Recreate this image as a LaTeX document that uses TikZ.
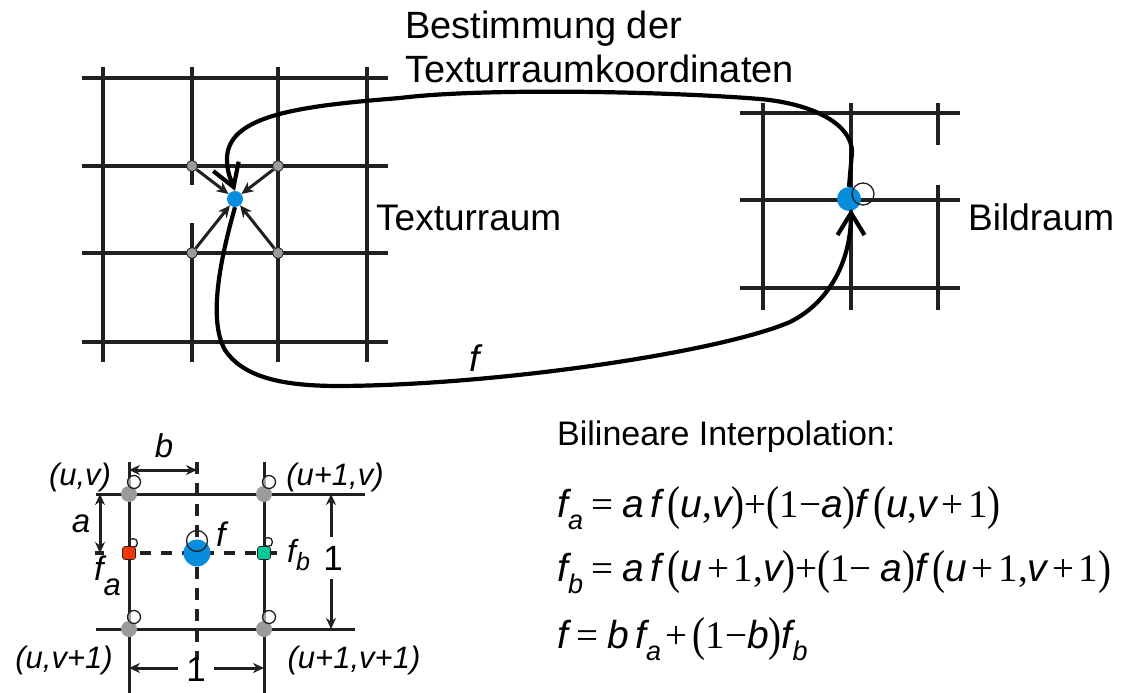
\documentclass[tikz,border=0pt]{standalone}
\usepackage{fontspec}
\usepackage{graphicx}
\setmainfont{Liberation Sans}
\newfontfamily\fser{Liberation Serif}
\usetikzlibrary{arrows.meta}
\definecolor{ink}{RGB}{35,31,32}
\definecolor{bluedot}{RGB}{8,140,220}
\definecolor{reddot}{RGB}{240,55,10}
\definecolor{greendot}{RGB}{0,200,150}
\definecolor{greydot}{RGB}{155,155,155}
\newcommand\fv[1]{{\itshape #1}}
\newcommand\fn[1]{{\fser #1}}
\newcommand\fp[1]{\raisebox{-0.06em}{\scalebox{1}[1.22]{\fser #1}}}
\newcommand\fsb[1]{\raisebox{-0.32em}{\fontsize{27}{27}\selectfont\itshape #1}}
\newcommand\fgap{\hspace{0.22em}}
\newcommand\fpl{\hspace{0.12em}\fn{+}\hspace{0.12em}}
\begin{document}
\begin{tikzpicture}[x=1pt,y=-1pt,
  gl/.style={draw=ink,line width=4pt},
  bl/.style={draw=ink,line width=3pt},
  dsh/.style={draw=ink,line width=3.2pt},
  dot/.style={circle,inner sep=0pt,minimum size=#1},
  ring/.style={circle,inner sep=0pt,minimum size=#1,draw=ink,line width=1.3pt},
  bigline/.style={draw=black,line width=4.2pt},
  barb/.style={-{Straight Barb[length=22pt,width=27pt]}},
  smallarrow/.style={draw=ink,line width=3pt,-{Stealth[length=12pt,width=11pt]}},
  dimarrow/.style={draw=ink,line width=3pt,-{Stealth[length=11pt,width=10pt]}},
  dimboth/.style={draw=ink,line width=3pt,{Stealth[length=11pt,width=10pt]}-{Stealth[length=11pt,width=10pt]}},
  txt/.style={inner sep=0pt,text=black},
]
\useasboundingbox (0,0) rectangle (1125,693);
\fill[white] (0,0) rectangle (1125,693);

% ---------- Texturraum grid ----------
\foreach \y in {78,166,253,342} \draw[gl] (82,\y) -- (388,\y);
\foreach \x in {103,278,367} \draw[gl] (\x,67) -- (\x,362);
\draw[gl] (192,67) -- (192,185);
\draw[gl] (192,223) -- (192,362);

% ---------- Bildraum grid ----------
\foreach \y in {113,200,288} \draw[gl] (740,\y) -- (960,\y);
\foreach \x in {763,851} \draw[gl] (\x,103) -- (\x,310);
\draw[gl] (938,103) -- (938,145);
\draw[gl] (938,185) -- (938,310);

% ---------- points ----------
\node[dot=16, fill=bluedot] (tex) at (235,199) {};
\node[dot=11, fill=greydot, draw=ink, line width=0.8pt] (g1) at (192,166) {};
\node[dot=11, fill=greydot, draw=ink, line width=0.8pt] (g2) at (278,166) {};
\node[dot=11, fill=greydot, draw=ink, line width=0.8pt] (g3) at (192,253) {};
\node[dot=11, fill=greydot, draw=ink, line width=0.8pt] (g4) at (278,253) {};
\draw[smallarrow] (g1) -- (tex);
\draw[smallarrow] (g2) -- (tex);
\draw[smallarrow] (g3) -- (tex);
\draw[smallarrow] (g4) -- (tex);

\node[dot=24, fill=bluedot] (bild) at (849,199) {};
\node[ring=22] (bildring) at (863,194) {};

% ---------- mapping curves ----------
\draw[bigline,barb] (bild.north) -- (852,152)
  .. controls (852,125) and (815,104) .. (760,99)
  .. controls (660,91) and (480,88) .. (400,98)
  .. controls (300,106) and (226,115) .. (227,160)
  .. controls (227,172) and (231,180) .. (tex.north);
\draw[bigline,barb] (tex.south)
  .. controls (220,260) and (208,320) .. (225,350)
  .. controls (245,380) and (290,386) .. (340,386)
  .. controls (500,385) and (720,352) .. (790,322)
  .. controls (830,302) and (851,260) .. (851,209);

% ---------- labels top ----------
\node[txt, anchor=base west, font=\fontsize{38}{38}\selectfont] (title1) at (405,39) {Bestimmung der};
\node[txt, anchor=base west, font=\fontsize{38}{38}\selectfont] (title2) at (405,82) {Texturraumkoordinaten};
\node[txt, anchor=base west, font=\fontsize{37}{37}\selectfont] (texlbl) at (376,230) {Texturraum};
\node[txt, anchor=base west, font=\fontsize{37}{37}\selectfont] (bildlbl) at (968,230) {Bildraum};
\node[txt, anchor=base west, font=\fontsize{37}{37}\selectfont\itshape] (flbl) at (469,371) {f};

% ---------- bilinear cell ----------
\draw[bl] (96,494) -- (365,494);
\draw[bl] (96,629) -- (355,629);
\draw[bl] (129,462) -- (129,693);
\draw[bl] (264,462) -- (264,693);
\draw[dsh, dash pattern=on 12pt off 9pt] (197,462) -- (197,660);
\draw[dsh, dash pattern=on 11pt off 10pt, dash phase=10pt] (129,553) -- (287,553);
\draw[dsh] (95,553) -- (104,553);

% dimension b
\coordinate (bL) at (129,470);
\coordinate (bR) at (197,470);
\draw[dimboth] (bL) -- (bR);
% dimension a
\coordinate (aT) at (100,494);
\coordinate (aB) at (100,553);
\draw[dimboth] (aT) -- (aB);
% dimension 1 (right)
\node[txt, font=\fontsize{35}{35}\selectfont, inner ysep=9pt, inner xsep=0pt] (oneR) at (333,558) {1};
\coordinate (oneRT) at (331,494);
\coordinate (oneRB) at (331,629);
\draw[dimarrow] (oneR.north -| oneRT) -- (oneRT);
\draw[dimarrow] (oneR.south -| oneRB) -- (oneRB);
% dimension 1 (bottom)
\node[txt, font=\fontsize{35}{35}\selectfont, inner xsep=8pt] (oneB) at (196,669) {1};
\coordinate (oneBL) at (129,668);
\coordinate (oneBR) at (264,668);
\draw[dimarrow] (oneB.west |- oneBL) -- (oneBL);
\draw[dimarrow] (oneB.east |- oneBR) -- (oneBR);

% corner samples
\node[dot=16, fill=greydot] (c1) at (129,494) {};
\node[dot=16, fill=greydot] (c2) at (264,494) {};
\node[dot=16, fill=greydot] (c3) at (129,629) {};
\node[dot=16, fill=greydot] (c4) at (264,629) {};
\node[ring=13, fill=white, fill opacity=0.6] (c1r) at (134,482) {};
\node[ring=13, fill=white, fill opacity=0.6] (c2r) at (269,482) {};
\node[ring=13, fill=white, fill opacity=0.6] (c3r) at (134,617) {};
\node[ring=13, fill=white, fill opacity=0.6] (c4r) at (269,617) {};
% interpolated points
\node[ring=9] (far) at (133,543) {};
\node[ring=9] (fbr) at (268,542) {};
\node[rectangle, rounded corners=2.5pt, inner sep=0pt, minimum size=13pt, fill=reddot, draw=ink, line width=0.6pt] (fa) at (129,553) {};
\node[rectangle, rounded corners=2.5pt, inner sep=0pt, minimum size=13pt, fill=greendot, draw=ink, line width=0.6pt] (fb) at (264,553) {};
\node[dot=27, fill=bluedot] (fc) at (197,553) {};
\node[ring=21] (fcr) at (197,541) {};

% labels of the cell
\node[txt, font=\fontsize{31}{31}\selectfont\itshape] (luv) at (80,477) {(u,v)};
\node[txt, font=\fontsize{31}{31}\selectfont\itshape] (lu1v) at (335,477) {(u+1,v)};
\node[txt, font=\fontsize{31}{31}\selectfont\itshape] (luv1) at (64,660) {(u,v+1)};
\node[txt, font=\fontsize{31}{31}\selectfont\itshape] (lu1v1) at (354,660) {(u+1,v+1)};
\node[txt, font=\fontsize{33}{33}\selectfont\itshape] (lb) at (164,446) {b};
\node[txt, font=\fontsize{33}{33}\selectfont\itshape] (la) at (81,524) {a};
\node[txt, anchor=base west, font=\fontsize{34}{34}\selectfont\itshape] (lf) at (216,546) {f};
\node[txt, anchor=base west, font=\fontsize{34}{34}\selectfont\itshape] (lfa) at (94,580) {f\raisebox{-0.45em}{\fontsize{31}{31}\selectfont a}};
\node[txt, anchor=base west, font=\fontsize{32}{32}\selectfont\itshape] (lfb) at (287,562) {f\raisebox{-0.25em}{\fontsize{25}{25}\selectfont b}};

% ---------- formulas ----------
\node[txt, anchor=base west, font=\fontsize{34}{34}\selectfont] (bi) at (557,445) {Bilineare Interpolation:};
\node[txt, anchor=base west, font=\fontsize{39}{39}\selectfont] (eq1) at (557,517)
 {\fv{f}\fsb{a}\fgap\fn{=}\fgap\fv{a}\,\fv{f}\,\fp{(}\fv{u}\fn{,}\fv{v}\fp{)}\fn{+}\fp{(}\fn{1}\fn{−}\fv{a}\fp{)}\fv{f}\,\fp{(}\fv{u}\fn{,}\fv{v}\fpl\fn{1}\fp{)}};
\node[txt, anchor=base west, font=\fontsize{39}{39}\selectfont] (eq2) at (557,581)
 {\fv{f}\fsb{b}\fgap\fn{=}\fgap\fv{a}\,\fv{f}\,\fp{(}\fv{u}\fpl\fn{1}\fn{,}\fv{v}\fp{)}\fn{+}\fp{(}\fn{1}\fn{−}\fgap\fv{a}\fp{)}\fv{f}\,\fp{(}\fv{u}\fpl\fn{1}\fn{,}\fv{v}\fpl\fn{1}\fp{)}};
\node[txt, anchor=base west, font=\fontsize{39}{39}\selectfont] (eq3) at (557,648)
 {\fv{f}\fgap\fn{=}\fgap\fv{b}\,\fv{f}\fsb{a}\fpl\fp{(}\fn{1}\fn{−}\fv{b}\fp{)}\fv{f}\fsb{b}};
\end{tikzpicture}
\end{document}
